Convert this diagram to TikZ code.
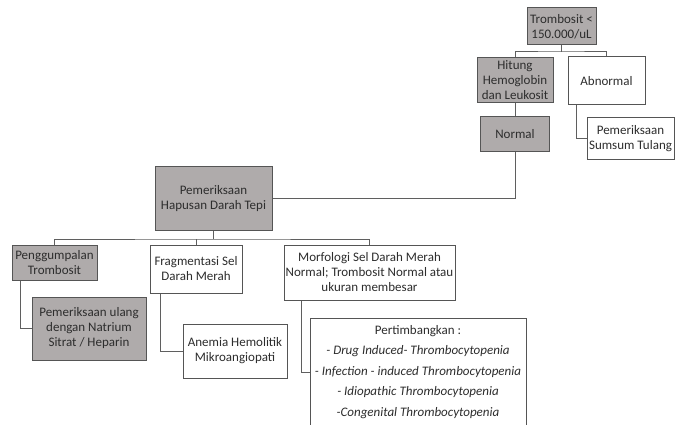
\documentclass[tikz,border=0pt]{standalone}
\usepackage{fontspec}
\setmainfont{Carlito}
\definecolor{boxgray}{RGB}{175,171,171}
\definecolor{edgec}{RGB}{85,85,85}
\definecolor{wirec}{RGB}{95,95,95}
\definecolor{ink}{RGB}{45,45,45}
\begin{document}
\begin{tikzpicture}[x=1pt,y=-1pt,
  box/.style={draw=edgec, line width=1pt, align=center, inner sep=0pt, text=ink,
              font=\fontsize{13}{15}\selectfont},
  graybox/.style={box, fill=boxgray},
  whitebox/.style={box, fill=white},
  wire/.style={draw=wirec, line width=1pt}]
\clip (0,0) rectangle (675,425);
\fill[white] (0,0) rectangle (675,425);

\node[graybox, minimum width=69pt, minimum height=37pt] (trom) at (561.5,26.5) {Trombosit <\\150.000/uL};
\node[graybox, minimum width=76pt, minimum height=45pt] (hitung) at (515,80.5) {Hitung\\Hemoglobin\\dan Leukosit};
\node[whitebox, minimum width=77pt, minimum height=48pt] (abn) at (606.5,81) {Abnormal};
\node[graybox, minimum width=69pt, minimum height=35pt] (normal) at (515,134.5) {Normal};
\node[whitebox, minimum width=87pt, minimum height=42pt] (sums) at (630.5,139) {Pemeriksaan\\Sumsum Tulang};
\node[graybox, minimum width=117pt, minimum height=63pt] (hap) at (213.5,198.5) {Pemeriksaan\\Hapusan Darah Tepi};
\node[graybox, minimum width=85pt, minimum height=35pt] (peng) at (54.5,262.5) {Penggumpalan\\Trombosit};
\node[whitebox, minimum width=92pt, minimum height=48pt] (frag) at (196,269) {Fragmentasi Sel\\Darah Merah};
\node[whitebox, minimum width=171pt, minimum height=55pt] (morf) at (369.5,272.5) {Morfologi Sel Darah Merah\\Normal; Trombosit Normal atau\\ukuran membesar};
\node[graybox, minimum width=114pt, minimum height=63pt] (ulang) at (89,328.5) {Pemeriksaan ulang\\dengan Natrium\\Sitrat / Heparin};
\node[whitebox, minimum width=104pt, minimum height=54pt] (anemia) at (235,351) {Anemia Hemolitik\\Mikroangiopati};
\node[whitebox, minimum width=216pt, minimum height=108pt, font=\fontsize{13}{20.5}\selectfont] (pert) at (418,372)
  {Pertimbangkan :\\\textit{- Drug Induced- Thrombocytopenia}\\\textit{- Infection - induced Thrombocytopenia}\\\textit{- Idiopathic Thrombocytopenia}\\\textit{-Congenital Thrombocytopenia}};

\coordinate (b1) at (561.5,52);
\coordinate (b2) at (213.5,239);
\draw[wire] (trom.south) -- (b1);
\draw[wire] (hitung.north) |- (b1) -| (abn.north);
\draw[wire] (hitung.south) -- (normal.north);
\draw[wire] (normal.south) |- (hap.east);
\draw[wire] ([xshift=9pt]abn.south west) |- (sums.west);
\draw[wire] (hap.south) -- (b2);
\draw[wire] (peng.north) |- (b2) -| (morf.north);
\draw[wire] (frag.north) -- (frag.north |- b2);
\draw[wire] ([xshift=9pt]peng.south west) |- (ulang.west);
\draw[wire] ([xshift=11pt]frag.south west) |- (anemia.west);
\draw[wire] ([xshift=18pt]morf.south west) |- (pert.west);
\end{tikzpicture}
\end{document}
